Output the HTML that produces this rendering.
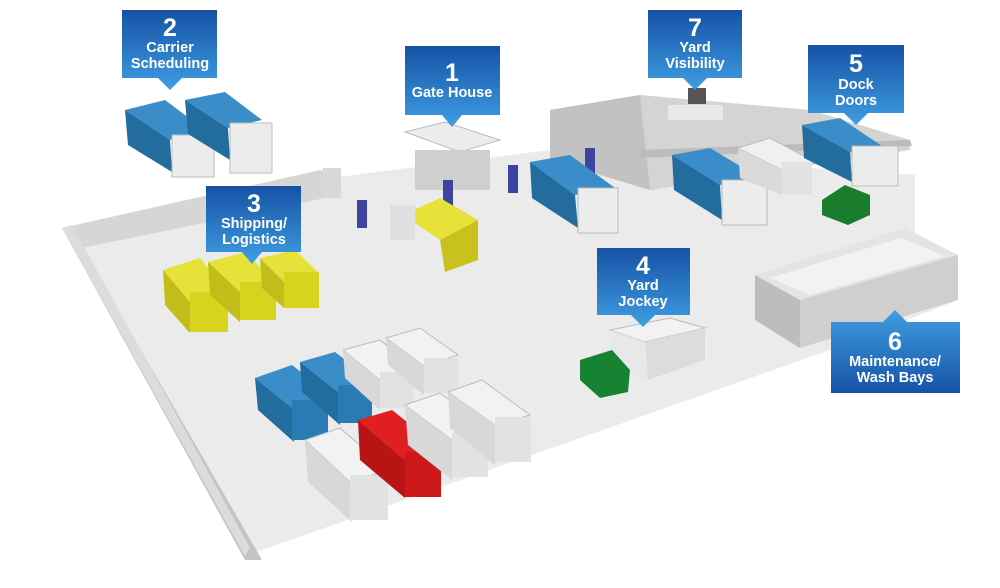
<!DOCTYPE html>
<html><head><meta charset="utf-8"><style>
body{margin:0;width:1000px;height:588px;background:#fff;overflow:hidden}
svg{display:block}
text{font-family:"Liberation Sans",sans-serif;font-weight:bold;fill:#fff;text-anchor:middle}
</style></head><body>
<svg width="1000" height="588" viewBox="0 0 1000 588">
<defs>
<linearGradient id="cb" x1="0" y1="0" x2="0" y2="1"><stop offset="0" stop-color="#1652a6"/><stop offset="1" stop-color="#3f9ee2"/></linearGradient>
<linearGradient id="cb2" x1="0" y1="0" x2="0" y2="1"><stop offset="0" stop-color="#3f9ee2"/><stop offset="1" stop-color="#1652a6"/></linearGradient>
</defs>
<!-- floor -->
<polygon points="62,228 330,178 550,150 915,175 915,235 958,255 958,300 830,350 245,556" fill="#ebebeb"/>
<!-- left wall -->
<polygon points="62,228 320,170 340,175 340,195 82,248" fill="#d6d6d6"/>
<polygon points="62,228 82,248 262,560 245,560" fill="#c4c4c4"/>
<polygon points="62,228 72,225 250,548 245,556" fill="#dcdcdc"/>
<!-- building -->
<polygon points="550,110 640,95 810,110 910,140 910,150 650,190 550,160" fill="#d4d4d4"/>
<polygon points="550,110 640,95 650,190 550,160" fill="#c2c2c2"/>
<polygon points="640,150 910,140 912,146 640,158" fill="#bcbcbc"/>
<rect x="668" y="105" width="55" height="15" fill="#e8e8e8"/>
<rect x="688" y="88" width="18" height="16" fill="#555"/>
<!-- maintenance bays -->
<polygon points="755,275 905,228 958,255 800,300" fill="#e4e4e4"/>
<polygon points="770,278 900,238 945,256 810,295" fill="#f2f2f2"/>
<polygon points="800,300 958,255 958,300 800,348" fill="#cfcfcf"/>
<polygon points="755,275 800,300 800,348 755,320" fill="#bdbdbd"/>
<!-- gate house -->
<polygon points="405,132 445,122 500,140 460,152" fill="#ececec" stroke="#bbb"/>
<rect x="415" y="150" width="75" height="40" fill="#cfcfcf"/>
<!-- posts -->
<rect x="357" y="200" width="10" height="28" fill="#3d44a0"/>
<rect x="443" y="180" width="10" height="30" fill="#3d44a0"/>
<rect x="508" y="165" width="10" height="28" fill="#3d44a0"/>
<rect x="585" y="148" width="10" height="28" fill="#3d44a0"/>
<rect x="323" y="168" width="18" height="30" fill="#d8d8d8"/>
<g>
<polygon points="125,110 165,100 205,130 170,140" fill="#3a8dc8"/><polygon points="125,110 170,140 172,172 128,145" fill="#226c9e"/><rect x="172" y="135" width="42" height="42" fill="#ececec" stroke="#bbb"/>
<polygon points="185,100 225,92 262,120 228,128" fill="#3a8dc8"/><polygon points="185,100 228,128 230,160 188,134" fill="#226c9e"/><rect x="230" y="123" width="42" height="50" fill="#ececec" stroke="#bbb"/>
<polygon points="403,215 440,198 478,220 440,240" fill="#e6e23a"/><polygon points="440,240 478,220 478,260 445,272" fill="#c9c21e"/><rect x="390" y="205" width="25" height="35" fill="#e0e0e0"/>
<polygon points="163,270 200,258 228,292 190,302" fill="#e6e23a"/><polygon points="163,270 190,302 190,333 165,305" fill="#c3bd1a"/><rect x="190" y="292" width="38" height="40" fill="#d8d41e"/>
<polygon points="208,262 245,252 275,282 240,292" fill="#e6e23a"/><rect x="240" y="282" width="36" height="38" fill="#d8d41e"/><polygon points="208,262 240,292 240,322 210,295" fill="#c3bd1a"/>
<polygon points="260,258 295,250 318,272 284,282" fill="#e6e23a"/><rect x="284" y="272" width="35" height="36" fill="#d8d41e"/><polygon points="260,258 284,282 284,308 262,288" fill="#c3bd1a"/>
<polygon points="530,162 570,155 615,188 575,195" fill="#3a8dc8"/><polygon points="530,162 575,195 578,228 532,198" fill="#226c9e"/><rect x="578" y="188" width="40" height="45" fill="#ececec" stroke="#bbb"/>
<polygon points="672,155 710,148 760,178 720,185" fill="#3a8dc8"/><polygon points="672,155 720,185 722,220 674,190" fill="#226c9e"/><rect x="722" y="180" width="45" height="45" fill="#ececec" stroke="#bbb"/>
<polygon points="738,148 770,138 815,162 782,170" fill="#f0f0f0" stroke="#bbb"/><polygon points="738,148 782,170 782,195 740,178" fill="#dadada"/><rect x="782" y="162" width="30" height="32" fill="#e2e2e2"/>
<polygon points="802,125 840,118 885,148 850,152" fill="#3a8dc8"/><polygon points="802,125 850,152 852,182 804,158" fill="#226c9e"/><rect x="852" y="146" width="46" height="40" fill="#ececec" stroke="#bbb"/>
<polygon points="822,200 845,185 870,195 870,215 848,225 822,215" fill="#1a7d2e"/>
<polygon points="610,330 670,318 705,328 645,342" fill="#f2f2f2" stroke="#bbb"/><polygon points="645,342 705,328 705,360 648,380" fill="#dcdcdc"/><polygon points="610,330 645,342 648,380 612,365" fill="#e8e8e8"/>
<polygon points="580,360 612,350 630,370 628,392 600,398 580,380" fill="#168232"/>
<polygon points="255,378 292,365 330,395 292,408" fill="#3a8dc8"/><polygon points="255,378 292,408 294,442 258,410" fill="#226c9e"/><rect x="292" y="400" width="36" height="40" fill="#2a7bb4"/>
<polygon points="300,362 335,352 372,380 338,392" fill="#3a8dc8"/><polygon points="300,362 338,392 340,425 302,392" fill="#226c9e"/><rect x="338" y="385" width="34" height="38" fill="#2a7bb4"/>
<polygon points="343,350 380,340 415,368 380,380" fill="#f2f2f2" stroke="#bbb"/><polygon points="343,350 380,380 380,410 345,378" fill="#d8d8d8"/><rect x="380" y="372" width="34" height="36" fill="#e2e2e2"/>
<polygon points="386,338 420,328 458,355 424,366" fill="#f2f2f2" stroke="#bbb"/><polygon points="386,338 424,366 424,395 388,365" fill="#d8d8d8"/><rect x="424" y="358" width="34" height="35" fill="#e2e2e2"/>
<polygon points="305,440 340,428 388,470 350,482" fill="#f2f2f2" stroke="#bbb"/><polygon points="305,440 350,482 352,522 308,482" fill="#d8d8d8"/><rect x="350" y="475" width="38" height="45" fill="#e2e2e2"/>
<polygon points="358,420 392,410 440,448 405,460" fill="#e02020"/><polygon points="358,420 405,460 405,498 360,460" fill="#b81414"/><rect x="405" y="452" width="36" height="45" fill="#cc1818"/>
<polygon points="405,405 440,393 488,430 452,440" fill="#f2f2f2" stroke="#bbb"/><polygon points="405,405 452,440 452,480 408,445" fill="#d8d8d8"/><rect x="452" y="432" width="36" height="45" fill="#e2e2e2"/>
<polygon points="448,392 482,380 530,415 495,425" fill="#f2f2f2" stroke="#bbb"/><polygon points="448,392 495,425 495,465 450,428" fill="#d8d8d8"/><rect x="495" y="417" width="36" height="45" fill="#e2e2e2"/>
</g>
<g>
<path d="M122,10H217V78H182L170,90L158,78H122Z" fill="url(#cb)"/>
<text x="170" y="36" font-size="25">2</text><text x="170" y="52" font-size="14.5">Carrier</text><text x="170" y="68" font-size="14.5">Scheduling</text>
<path d="M405,46H500V115H462L452,127L442,115H405Z" fill="url(#cb)"/>
<text x="452" y="81" font-size="25">1</text><text x="452" y="97" font-size="14.5">Gate House</text>
<path d="M206,186H301V252H262L252,264L242,252H206Z" fill="url(#cb)"/>
<text x="254" y="212" font-size="25">3</text><text x="254" y="228" font-size="14.5">Shipping/</text><text x="254" y="244" font-size="14.5">Logistics</text>
<path d="M648,10H742V78H707L695,90L683,78H648Z" fill="url(#cb)"/>
<text x="695" y="36" font-size="25">7</text><text x="695" y="52" font-size="14.5">Yard</text><text x="695" y="68" font-size="14.5">Visibility</text>
<path d="M808,45H904V113H868L856,125L844,113H808Z" fill="url(#cb)"/>
<text x="856" y="72" font-size="25">5</text><text x="856" y="89" font-size="14.5">Dock</text><text x="856" y="105" font-size="14.5">Doors</text>
<path d="M597,248H690V315H655L643,327L631,315H597Z" fill="url(#cb)"/>
<text x="643" y="274" font-size="25">4</text><text x="643" y="290" font-size="14.5">Yard</text><text x="643" y="306" font-size="14.5">Jockey</text>
<path d="M831,322H883L895,310L907,322H960V393H831Z" fill="url(#cb2)"/>
<text x="895" y="350" font-size="25">6</text><text x="895" y="366" font-size="14.5">Maintenance/</text><text x="895" y="382" font-size="14.5">Wash Bays</text>
</g>
</svg>
</body></html>
